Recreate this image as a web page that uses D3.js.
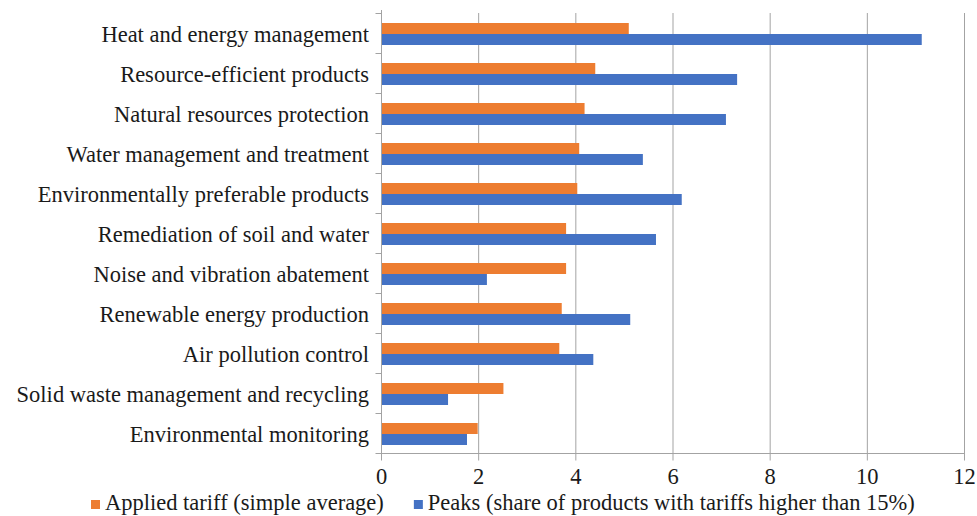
<!DOCTYPE html>
<html>
<head>
<meta charset="utf-8">
<script src="https://cdn.jsdelivr.net/npm/d3@7"></script>
<style>
  html, body { margin: 0; padding: 0; background: #ffffff; }
  svg { display: block; }
  svg text { font-family: "Liberation Serif", serif; }
</style>
</head>
<body>
<svg id="chart" width="977" height="516"></svg>
<script>
// Environmental goods: tariff statistics by category
const categories = [
  "Heat and energy management",
  "Resource-efficient products",
  "Natural resources protection",
  "Water management and treatment",
  "Environmentally preferable products",
  "Remediation of soil and water",
  "Noise and vibration abatement",
  "Renewable energy production",
  "Air pollution control",
  "Solid waste management and recycling",
  "Environmental monitoring"
];
const appliedTariff = [5.10, 4.41, 4.19, 4.08, 4.04, 3.81, 3.81, 3.72, 3.67, 2.52, 1.99];
const peaks = [11.13, 7.33, 7.10, 5.39, 6.19, 5.66, 2.18, 5.13, 4.37, 1.38, 1.77];
const xTicks = [0, 2, 4, 6, 8, 10, 12];
const seriesNames = [
  "Applied tariff (simple average)",
  "Peaks (share of products with tariffs higher than 15%)"
];
const seriesColors = ["#ED7D31", "#4472C4"];

const FONT = "'Liberation Serif', serif";
const FS = 22.5;
const textColor = "#1a1a1a";

const svg = d3.select("#chart");
const plotLeft = 381, plotRight = 964, plotTop = 13, plotBottom = 453;

const x = d3.scaleLinear().domain([0, 12]).range([plotLeft, plotRight]);
const y = d3.scaleBand().domain(categories).range([plotTop, plotBottom])
  .paddingInner(0.45).paddingOuter(0.225);
const sub = d3.scaleBand().domain([0, 1]).range([0, y.bandwidth()]);

const gridColor = "#a3a3a3";

// vertical gridlines
svg.append("g").selectAll("line").data(xTicks.slice(1)).join("line")
  .attr("x1", d => x(d) + 0.5).attr("x2", d => x(d) + 0.5)
  .attr("y1", plotTop).attr("y2", plotBottom)
  .attr("stroke", gridColor).attr("stroke-width", 1);

// bars
const groups = svg.append("g").selectAll("g").data(categories).join("g")
  .attr("transform", d => `translate(0,${y(d) + 1})`);
groups.append("rect")
  .attr("x", x(0)).attr("y", sub(0))
  .attr("width", (d, i) => x(appliedTariff[i]) - x(0))
  .attr("height", sub.bandwidth())
  .attr("fill", seriesColors[0]);
groups.append("rect")
  .attr("x", x(0)).attr("y", sub(1))
  .attr("width", (d, i) => x(peaks[i]) - x(0))
  .attr("height", sub.bandwidth())
  .attr("fill", seriesColors[1]);

// x axis
const xAxis = svg.append("g")
  .attr("transform", `translate(0,${plotBottom + 0.5})`)
  .call(d3.axisBottom(x).tickValues(xTicks).tickSize(7).tickPadding(8).tickFormat(d3.format("d")));
xAxis.attr("font-family", null).attr("font-size", null);
xAxis.select(".domain").attr("stroke", gridColor).attr("d", `M${plotLeft},0H${plotRight + 1}`);
xAxis.selectAll(".tick line").attr("stroke", gridColor);
xAxis.selectAll(".tick text").attr("fill", textColor)
  .style("font-family", FONT).style("font-size", FS + "px");

// y axis with category boundary ticks
const yAxis = svg.append("g").attr("transform", `translate(${plotLeft + 0.5},0)`);
yAxis.append("line").attr("y1", plotTop - 3).attr("y2", plotBottom)
  .attr("stroke", gridColor);
const bounds = d3.range(categories.length + 1).map(i => plotTop + i * y.step());
yAxis.selectAll(".bt").data(bounds).join("line").attr("class", "bt")
  .attr("x1", -6).attr("x2", 0)
  .attr("y1", d => d + 0.5).attr("y2", d => d + 0.5)
  .attr("stroke", gridColor);
yAxis.selectAll("text").data(categories).join("text")
  .attr("x", -12.5)
  .attr("y", d => y(d) + y.bandwidth() / 2 + 1)
  .attr("dy", "0.35em")
  .attr("text-anchor", "end")
  .style("font-family", FONT)
  .style("font-size", FS + "px")
  .attr("fill", textColor)
  .text(d => d);

// legend
const legend = svg.append("g").attr("transform", "translate(91,510)");
let lx = 0;
seriesNames.forEach((name, i) => {
  legend.append("rect").attr("x", lx).attr("y", -10).attr("width", 9).attr("height", 9)
    .attr("fill", seriesColors[i]);
  const t = legend.append("text").attr("x", lx + 14).attr("y", 0)
    .style("font-family", FONT).style("font-size", FS + "px").attr("fill", textColor)
    .text(name);
  lx += 14 + t.node().getComputedTextLength() + 30;
});
</script>
</body>
</html>
